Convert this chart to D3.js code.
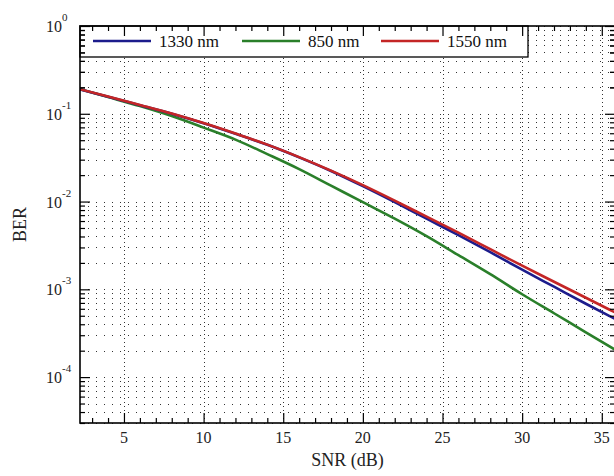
<!DOCTYPE html>
<html><head><meta charset="utf-8">
<script src="https://cdn.jsdelivr.net/npm/d3@7/dist/d3.min.js"></script>
<style>body{margin:0;background:#fff;} svg{display:block;}</style>
</head><body>
<svg id="c" width="614" height="476" style="font-family:'Liberation Serif','DejaVu Serif',serif"></svg>
<script>
const snr = [2.2, 4, 6, 8, 10, 12, 14, 16, 18, 20, 22, 24, 26, 28, 30, 32, 34, 36];
const ber1330 = [0.1905, 0.1565, 0.1252, 0.1002, 0.0781, 0.0592, 0.0443, 0.0319, 0.0223, 0.01498, 0.009845, 0.006383, 0.004139, 0.002649, 0.001673, 0.001071, 0.000685, 0.000444];
const ber850  = [0.1912, 0.1550, 0.1224, 0.09414, 0.06959, 0.05079, 0.03471, 0.02341, 0.01518, 0.009845, 0.006383, 0.004032, 0.002448, 0.001486, 0.000879, 0.000534, 0.000324, 0.000197];
const ber1550 = [0.1912, 0.1571, 0.1257, 0.1005, 0.0783, 0.0595, 0.04455, 0.03209, 0.0225, 0.01538, 0.01024, 0.006726, 0.004419, 0.002866, 0.001858, 0.001221, 0.000802, 0.000527];
const seriesNames = ["1330 nm", "850 nm", "1550 nm"];
const xMajor = [5, 10, 15, 20, 25, 30, 35];
const yMajorExp = [0, -1, -2, -3, -4];

const colors = {"1330 nm": "#1c1c8c", "850 nm": "#2a7f2a", "1550 nm": "#c42626"};
const series = [
  {name: "850 nm", values: ber850},
  {name: "1330 nm", values: ber1330},
  {name: "1550 nm", values: ber1550}
];
const FONT = "'Liberation Serif', 'DejaVu Serif', serif";

const L = 80, R = 615, T = 26, B = 423;
const svg = d3.select("#c");
const x = d3.scaleLinear().domain([2.24, 35.83]).range([L, R]);
const y = d3.scaleLog().domain([3e-5, 1]).range([B, T]);

const xMinor = d3.range(3, 37).filter(v => !xMajor.includes(v));
const yMinor = [];
for (let k = -5; k <= -1; k++) for (let m = 2; m <= 9; m++) { const v = m * Math.pow(10, k); if (v >= 3e-5) yMinor.push(v); }
const yMajor = yMajorExp.map(e => Math.pow(10, e));

const g = svg.append("g");
g.selectAll("line.hg").data(yMinor.concat(yMajor)).join("line")
  .attr("x1", L).attr("x2", R).attr("y1", d => Math.round(y(d)) + 0.5).attr("y2", d => Math.round(y(d)) + 0.5)
  .attr("stroke", "#333").attr("stroke-width", 1).attr("stroke-dasharray", "1,7");
g.selectAll("line.vg").data(xMajor).join("line")
  .attr("x1", d => Math.round(x(d)) + 0.5).attr("x2", d => Math.round(x(d)) + 0.5).attr("y1", T).attr("y2", B)
  .attr("stroke", "#333").attr("stroke-width", 1).attr("stroke-dasharray", "1,3");

svg.append("clipPath").attr("id", "clip").append("rect").attr("x", L).attr("y", T).attr("width", R - L).attr("height", B - T);
const line = d3.line().x((d, i) => x(snr[i])).y(d => y(d)).curve(d3.curveMonotoneX);
svg.append("g").attr("clip-path", "url(#clip)").selectAll("path").data(series).join("path")
  .attr("d", d => line(d.values)).attr("fill", "none")
  .attr("stroke", d => colors[d.name]).attr("stroke-width", 2.6);

const lg = svg.append("g");
lg.append("rect").attr("x", L).attr("y", T).attr("width", 448).attr("height", 31)
  .attr("fill", "#fff").attr("stroke", "#000").attr("stroke-width", 1.3);
const legX = [93, 242, 381];
seriesNames.forEach((n, i) => {
  lg.append("line").attr("x1", legX[i]).attr("x2", legX[i] + 58).attr("y1", 41).attr("y2", 41)
    .attr("stroke", colors[n]).attr("stroke-width", 2.6);
  lg.append("text").attr("x", legX[i] + 66).attr("y", 47).text(n)
    .style("font-family", FONT).style("font-size", "17px").attr("fill", "#111");
});

function ticks(axisFn, scale, vals, size, tr) {
  const a = axisFn(scale).tickValues(vals).tickSizeInner(-size).tickSizeOuter(0).tickFormat("");
  const gg = svg.append("g").attr("transform", tr).call(a);
  gg.select(".domain").remove();
  gg.selectAll("line").attr("stroke", "#000").attr("stroke-width", 1.2);
}
const yMinorAll = yMinor.concat([2e-1, 3e-1, 4e-1, 5e-1, 6e-1, 7e-1, 8e-1, 9e-1]);
ticks(d3.axisBottom, x, xMajor, 10, `translate(0,${B})`);
ticks(d3.axisBottom, x, xMinor, 5, `translate(0,${B})`);
ticks(d3.axisTop, x, xMajor, 10, `translate(0,${T})`);
ticks(d3.axisTop, x, xMinor, 5, `translate(0,${T})`);
ticks(d3.axisLeft, y, yMajor, 10, `translate(${L},0)`);
ticks(d3.axisLeft, y, yMinorAll, 5, `translate(${L},0)`);
ticks(d3.axisRight, y, yMajor, 10, `translate(${R},0)`);
ticks(d3.axisRight, y, yMinorAll, 5, `translate(${R},0)`);

svg.append("rect").attr("x", L).attr("y", T).attr("width", R - L).attr("height", B - T)
  .attr("fill", "none").attr("stroke", "#000").attr("stroke-width", 1.6);

svg.selectAll("text.xl").data(xMajor).join("text")
  .attr("x", d => x(d)).attr("y", 443).attr("text-anchor", "middle").text(d => d)
  .style("font-family", FONT).style("font-size", "16px").attr("fill", "#222");
svg.append("text").attr("x", (L + R) / 2).attr("y", 466).attr("text-anchor", "middle").text("SNR (dB)")
  .style("font-family", FONT).style("font-size", "18px").attr("fill", "#222");

yMajorExp.forEach(e => {
  const yy = y(Math.pow(10, e));
  svg.append("text").attr("x", 62).attr("y", yy + 6).attr("text-anchor", "end").text("10")
    .style("font-family", FONT).style("font-size", "16px").attr("fill", "#222");
  svg.append("text").attr("x", 62).attr("y", yy - 5).attr("text-anchor", "start").text(String(e))
    .style("font-family", FONT).style("font-size", "11px").attr("fill", "#222");
});
svg.append("text").attr("transform", `translate(26,${(T + B) / 2}) rotate(-90)`).attr("text-anchor", "middle")
  .text("BER").style("font-family", FONT).style("font-size", "18px").attr("fill", "#222");
</script>
</body></html>
